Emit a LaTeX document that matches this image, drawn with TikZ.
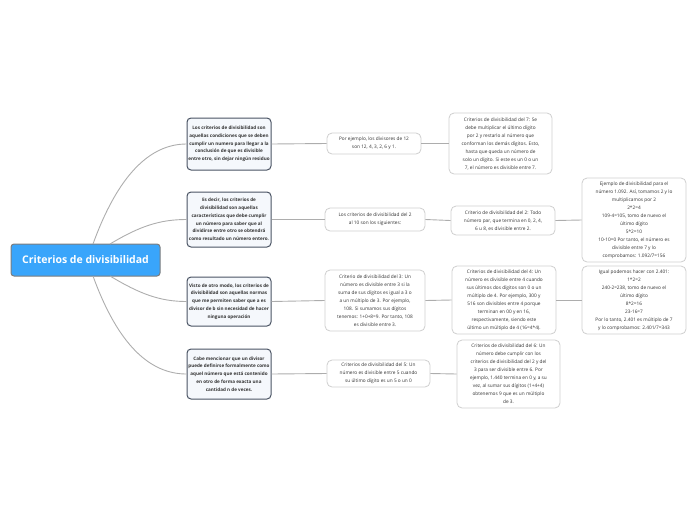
\documentclass[tikz,border=0pt]{standalone}
\usepackage{fontspec}
\setmainfont{Open Sans}
\definecolor{rootblue}{HTML}{39A5FB}
\definecolor{rootborder}{HTML}{7D7D7D}
\definecolor{darkborder}{HTML}{4A5363}
\definecolor{lightfill}{HTML}{F5F8FC}
\definecolor{lightborder}{HTML}{CFCFCF}
\definecolor{txt}{HTML}{333333}
\definecolor{linkgray}{HTML}{ADADAD}
\begin{document}
\begin{tikzpicture}[x=1pt,y=-1pt,
  rootbox/.style={draw=rootborder, line width=1pt, fill=rootblue, rounded corners=3pt,
    inner sep=0pt, minimum width=149pt, minimum height=32pt, text=white,
    font=\fontsize{10.5}{12}\selectfont\bfseries},
  mainbox/.style={draw=darkborder, line width=1pt, fill=lightfill, rounded corners=4pt,
    inner sep=0pt, minimum width=84pt, align=center, text=txt,
    font=\fontsize{4.6}{7.8}\selectfont\bfseries},
  subbox/.style={draw=lightborder, line width=0.8pt, fill=white, rounded corners=5pt,
    inner sep=0pt, align=center, text=txt,
    font=\fontsize{4.75}{8}\selectfont},
  link/.style={draw=linkgray, line width=0.9pt}
]
\useasboundingbox (0,0) rectangle (696,520);

\node[rootbox] (root) at (85.5,260) {Criterios de divisibilidad};

\node[mainbox, minimum height=52pt] (n1) at (229,144) {Los criterios de divisibilidad son\\aquellas condiciones que se deben\\cumplir un numero para llegar a la\\conclusión de que es divisible\\entre otro, sin dejar ningún residuo};
\node[mainbox, minimum height=55pt] (n2) at (229,219.5) {Es decir, los criterios de\\divisibilidad son aquellas\\características que debe cumplir\\un número para saber que al\\dividirse entre otro se obtendrá\\como resultado un número entero.};
\node[mainbox, minimum height=49pt] (n3) at (229,301.5) {Visto de otro modo, los criterios de\\divisibilidad son aquellas normas\\que me permiten saber que a es\\divisor de b sin necesidad de hacer\\ninguna operación};
\node[mainbox, minimum height=50pt] (n4) at (229,374) {Cabe mencionar que un divisor\\puede definirse formalmente como\\aquel número que está contenido\\en otro de forma exacta una\\cantidad n de veces.};

\node[subbox, minimum width=94pt, minimum height=21pt] (p1) at (374,143.5) {Por ejemplo, los divisores de 12\\son 12, 4, 3, 2, 6 y 1.};
\node[subbox, minimum width=100pt, minimum height=23pt] (p2) at (375,219.5) {Los criterios de divisibilidad del 2\\al 10 son los siguientes:};
\node[subbox, minimum width=100pt, minimum height=61pt] (p3) at (375,300.5) {Criterio de divisibilidad del 3: Un\\número es divisible entre 3 si la\\suma de sus dígitos es igual a 3 o\\a un múltiplo de 3. Por ejemplo,\\108. Si sumamos sus dígitos\\tenemos: 1+0+8=9. Por tanto, 108\\es divisible entre 3.};
\node[subbox, minimum width=103pt, minimum height=27pt] (p4) at (378.5,373.5) {Criterios de divisibilidad del 5: Un\\número es divisible entre 5 cuando\\su último dígito es un 5 o un 0};

\node[subbox, minimum width=103pt, minimum height=61pt] (q1) at (500.5,143.5) {Criterios de divisibilidad del 7: Se\\debe multiplicar el último dígito\\por 2 y restarlo al número que\\conforman los demás dígitos. Esto,\\hasta que queda un número de\\solo un dígito. Si este es un 0 o un\\7, el número es divisible entre 7.};
\node[subbox, minimum width=104pt, minimum height=29pt] (q2) at (503,220.5) {Criterio de divisibilidad del 2: Todo\\número par, que termina en 0, 2, 4,\\6 u 8, es divisible entre 2.};
\node[subbox, minimum width=104pt, minimum height=68pt] (q3) at (504,300) {Criterios de divisibilidad del 4: Un\\número es divisible entre 4 cuando\\sus últimos dos dígitos son 0 o un\\múltiplo de 4. Por ejemplo, 300 y\\516 son divisibles entre 4 porque\\terminan en 00 y en 16,\\respectivamente, siendo este\\último un múltiplo de 4 (16=4*4).};
\node[subbox, minimum width=103pt, minimum height=68pt] (q4) at (508.5,374) {Criterios de divisibilidad del 6: Un\\número debe cumplir con los\\criterios de divisibilidad del 2 y del\\3 para ser divisible entre 6. Por\\ejemplo, 1.440 termina en 0 y, a su\\vez, al sumar sus dígitos (1+4+4)\\obtenemos 9 que es un múltiplo\\de 3.};

\node[subbox, minimum width=104pt, minimum height=84pt] (r1) at (634,220) {Ejemplo de divisibilidad para el\\número 1.092. Así, tomamos 2 y lo\\multiplicamos por 2\\2*2=4\\109-4=105, tomo de nuevo el\\último dígito\\5*2=10\\10-10=0 Por tanto, el número es\\divisible entre 7 y lo\\comprobamos: 1.092/7=156};
\node[subbox, minimum width=104pt, minimum height=68pt] (r2) at (634,300) {Igual podemos hacer con 2.401:\\1*2=2\\240-2=238, tomo de nuevo el\\último dígito\\8*2=16\\23-16=7\\Por lo tanto, 2.401 es múltiplo de 7\\y lo comprobamos: 2.401/7=343};

\coordinate (ro) at (93,244);
\coordinate (ri) at (110,244);
\coordinate (bo) at (93,276);
\coordinate (bi) at (110,276);
\draw[link] (ro) .. controls (118,175) and (150,144) .. (n1.west);
\draw[link] (ri) .. controls (140,226) and (160,219.5) .. (n2.west);
\draw[link] (bi) .. controls (140,294) and (160,301.5) .. (n3.west);
\draw[link] (bo) .. controls (118,345) and (150,374) .. (n4.west);
\draw[link] (n1.east) -- (p1.west);
\draw[link] (n2.east) -- (p2.west);
\draw[link] (n3.east) -- (p3.west);
\draw[link] (n4.east) -- (p4.west);
\draw[link] (p1.east) -- (q1.west);
\draw[link] (p2.east) -- (q2.west);
\draw[link] (p3.east) -- (q3.west);
\draw[link] (p4.east) -- (q4.west);
\draw[link] (q2.east) -- (r1.west);
\draw[link] (q3.east) -- (r2.west);
\end{tikzpicture}
\end{document}
